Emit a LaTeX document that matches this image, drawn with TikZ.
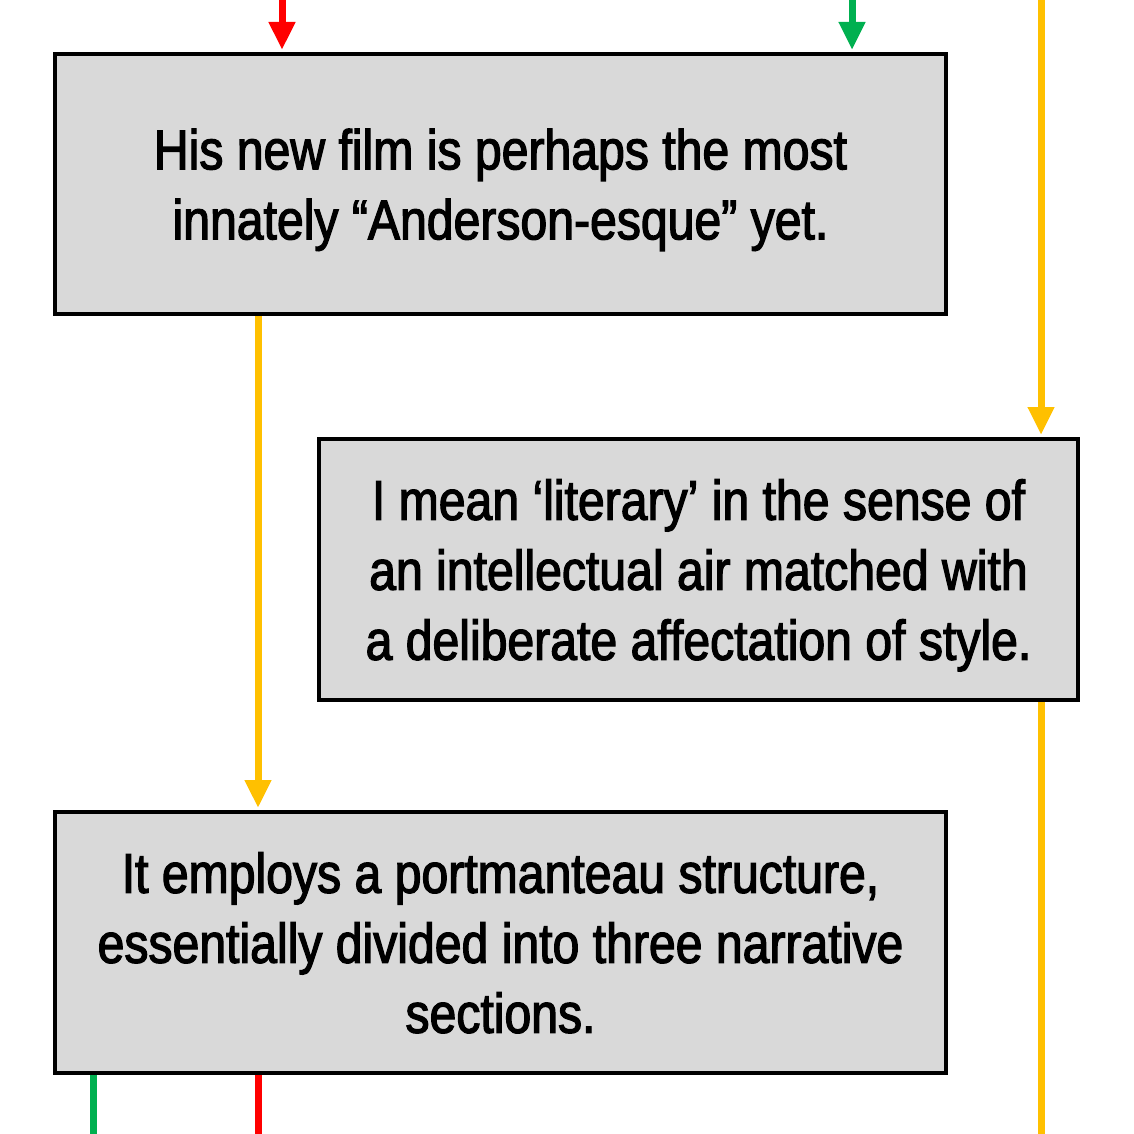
\documentclass[tikz,border=0pt]{standalone}
\usepackage{fontspec}
\setmainfont{Liberation Sans}[FakeStretch=0.86,FakeBold=2.2]
\usetikzlibrary{arrows.meta}

\definecolor{boxgray}{HTML}{D9D9D9}
\definecolor{linkred}{HTML}{FF0000}
\definecolor{linkgreen}{HTML}{00B050}
\definecolor{linkyellow}{HTML}{FFC000}

\begin{document}
\begin{tikzpicture}[x=1pt,y=-1pt,
  font=\fontsize{56}{70}\selectfont,align=center,
  claim/.style={draw=black,line width=4pt,fill=boxgray,inner sep=0pt,text depth=0pt},
  link/.style={line width=7pt,-{Triangle[length=28pt,width=25pt]},shorten >=2pt},
  tail/.style={line width=7pt}]
\useasboundingbox (0,0) rectangle (1134,1134);

% statements
\node[claim,minimum width=891pt,minimum height=260pt] (film)    at (500.5,184.0) {His new film is perhaps the most\\innately “Anderson-esque” yet.};
\node[claim,minimum width=759pt,minimum height=261pt] (literary) at (698.5,569.5) {I mean ‘literary’ in the sense of\\an intellectual air matched with\\a deliberate affectation of style.};
\node[claim,minimum width=891pt,minimum height=261pt] (portman) at (500.5,942.5) {It employs a portmanteau structure,\\essentially divided into three narrative\\sections.};

% loose ends
\coordinate (redin)    at (282,0);
\coordinate (greenin)  at (852,0);
\coordinate (yellowin) at (1041,0);
\coordinate (yellowout) at (1041,1134);
\coordinate (greenout) at (93,1134);
\coordinate (redout)   at (258,1134);

\draw[link,linkred]    (redin)    -- (redin |- film.north);
\draw[link,linkgreen]  (greenin)  -- (greenin |- film.north);
\draw[link,linkyellow] (yellowin) -- (yellowin |- literary.north);
\draw[link,linkyellow] (film.south -| redout) -- (portman.north -| redout);
\draw[tail,linkyellow] (literary.south -| yellowout) -- (yellowout);
\draw[tail,linkgreen]  (portman.south -| greenout) -- (greenout);
\draw[tail,linkred]    (portman.south -| redout) -- (redout);
\end{tikzpicture}
\end{document}
